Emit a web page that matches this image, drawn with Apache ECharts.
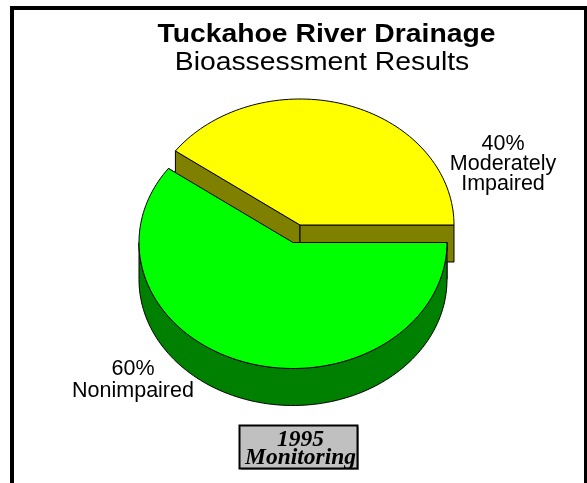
<!DOCTYPE html>
<html><head><meta charset="utf-8">
<style>html,body{margin:0;padding:0;background:#fff}#c{width:587px;height:483px}</style>
<script src="https://cdn.jsdelivr.net/npm/echarts@6/dist/echarts.min.js"></script>
</head><body><div id="c"></div>
<script>
const categories = ['Nonimpaired', 'Moderately Impaired'];
const percentValues = [60, 40];
const sliceLabels = [['60%', 'Nonimpaired'], ['40%', 'Moderately', 'Impaired']];
const titleLines = ['Tuckahoe River Drainage', 'Bioassessment Results'];
const noteLines = ['1995', 'Monitoring'];

const RX = 154, RY = 126, DEPTH = 37;
const CENTERS = [[293, 242.5], [300, 225]];
const TOPS = ['#00ff00', '#ffff00'];
const SIDES = ['#008000', '#808000'];
const LABEL_POS = [[133, 380], [503, 164]];
const LABEL_LINE = [22, 20];
const OUT = {stroke: '#000', lineWidth: 1};

function pt(c, t, dy) { return [c[0] + RX * Math.cos(t), c[1] + RY * Math.sin(t) + (dy || 0)]; }
function arc(c, a, b, dy) {
  const n = Math.max(2, Math.ceil(Math.abs(b - a) / 0.03)), r = [];
  for (let i = 0; i <= n; i++) r.push(pt(c, a + (b - a) * i / n, dy));
  return r;
}
const total = percentValues.reduce((a, b) => a + b, 0);
const spans = []; let acc = 0;
percentValues.forEach(v => { const a = acc; acc += v / total * 2 * Math.PI; spans.push([a, acc]); });

function poly(points, fill, z) {
  return {type: 'polygon', z2: z, shape: {points}, style: Object.assign({fill}, OUT)};
}
function renderItem(params, api) {
  const i = params.dataIndex, c = CENTERS[i], s = spans[i];
  const children = [];
  const radial = a => {
    const e = pt(c, a);
    children.push(poly([c, e, [e[0], e[1] + DEPTH], [c[0], c[1] + DEPTH]], SIDES[i], 1));
  };
  radial(s[0]); radial(s[1] % (2 * Math.PI));
  const lo = Math.max(s[0], 0), hi = Math.min(s[1], Math.PI);
  if (hi > lo) {
    children.push(poly(arc(c, lo, hi).concat(arc(c, hi, lo, DEPTH)), SIDES[i], 2));
  }
  children.push(poly([c].concat(arc(c, s[0], s[1])), TOPS[i], 3));
  const lp = LABEL_POS[i];
  children.push({type: 'text', z2: 10, x: lp[0], y: lp[1], style: {
    text: sliceLabels[i].join('\n'), align: 'center', verticalAlign: 'middle', fill: '#000',
    font: '21.5px "Liberation Sans"', lineHeight: LABEL_LINE[i]
  }});
  return {type: 'group', children};
}

const chart = echarts.init(document.getElementById('c'), null, {renderer: 'canvas'});
chart.setOption({
  animation: false,
  backgroundColor: '#fff',
  graphic: [
    {type: 'text', z: 22, x: 326.5, y: 34.5, scaleX: 1.09, style: {
      text: titleLines[0], align: 'center', verticalAlign: 'middle', fill: '#000',
      font: 'bold 26px "Liberation Sans"'}},
    {type: 'text', z: 22, x: 322, y: 62.5, scaleX: 1.09, style: {
      text: titleLines[1], align: 'center', verticalAlign: 'middle', fill: '#000',
      font: '26px "Liberation Sans"'}},
    {type: 'polyline', z: 20, shape: {points: [[12, 483], [12, 8], [586, 8], [586, 483]]},
     style: {fill: null, stroke: '#000', lineWidth: 4}},
    {type: 'rect', z: 20, shape: {x: 241, y: 427, width: 118, height: 43}, style: {fill: '#a8a8a8'}},
    {type: 'rect', z: 21, shape: {x: 239.5, y: 425.5, width: 118, height: 43},
     style: {fill: '#c0c0c0', stroke: '#000', lineWidth: 2}},
    {type: 'text', z: 22, x: 300.5, y: 449, style: {
      text: noteLines.join('\n'), align: 'center', verticalAlign: 'middle', fill: '#000',
      font: 'italic bold 23.5px "Liberation Serif"', lineHeight: 18}}
  ],
  series: [{
    type: 'custom', coordinateSystem: 'none', renderItem,
    data: categories.map((name, i) => ({name, value: percentValues[i]}))
  }]
});
</script></body></html>
